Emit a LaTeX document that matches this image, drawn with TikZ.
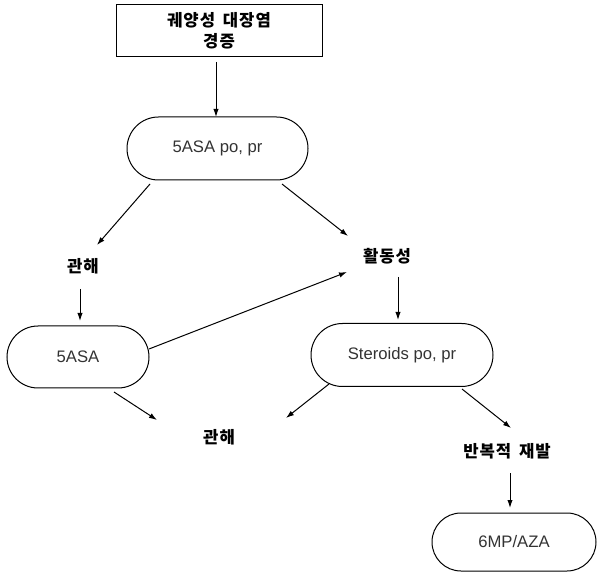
\documentclass[tikz,border=0pt]{standalone}
\usepackage{fontspec}
\setmainfont{Liberation Sans}
\newfontfamily\kr{Noto Sans CJK KR}[LetterSpace=6,WordSpace=1.6]
\usetikzlibrary{arrows.meta,shapes.misc}
\definecolor{txtgray}{HTML}{333333}
\begin{document}
\begin{tikzpicture}[x=0.75pt,y=-0.75pt,
  every node/.style={inner sep=0pt,outer sep=0pt},
  pill/.style={draw,line width=0.75pt,rounded rectangle,font=\fontsize{12.5}{15}\selectfont,text=txtgray},
  lbl/.style={font=\kr\bfseries\fontsize{12.5}{14}\selectfont},
  arr/.style={line width=0.75pt,-{Latex[length=6pt,width=4pt]}}]
\useasboundingbox (0,0) rectangle (597,574);
\node[draw,line width=0.75pt,minimum width=206*0.75pt,minimum height=52*0.75pt,align=center,lbl,font=\kr\bfseries\fontsize{12.5}{16}\selectfont] (top) at (219,31) {궤양성 대장염\\경증};
\node[pill,minimum width=181*0.75pt,minimum height=63*0.75pt] (p1) at (217.5,148.5) {5ASA po, pr};
\node[lbl] (r1) at (83,266) {관해};
\node[lbl] (act) at (387,256) {활동성};
\node[pill,minimum width=142*0.75pt,minimum height=62*0.75pt] (p2) at (78,357) {5ASA};
\node[pill,minimum width=182*0.75pt,minimum height=63*0.75pt] (p3) at (402,355) {Steroids po, pr};
\node[lbl] (r2) at (219,437) {관해};
\node[lbl] (rel) at (507,451) {반복적 재발};
\node[pill,minimum width=164*0.75pt,minimum height=58*0.75pt] (p4) at (514,542) {6MP/AZA};
\coordinate (a1s) at (216,62); \coordinate (a1e) at (216,117);
\draw[arr] (a1s) -- (a1e);
\coordinate (a2s) at (150,184); \coordinate (a2e) at (97,245);
\draw[arr] (a2s) -- (a2e);
\coordinate (a3s) at (282,184); \coordinate (a3e) at (348,236);
\draw[arr] (a3s) -- (a3e);
\coordinate (a4s) at (80,289); \coordinate (a4e) at (80,321);
\draw[arr] (a4s) -- (a4e);
\coordinate (a5s) at (149,349); \coordinate (a5e) at (347,272);
\draw[arr] (a5s) -- (a5e);
\coordinate (a6s) at (398,277); \coordinate (a6e) at (398,320);
\draw[arr] (a6s) -- (a6e);
\coordinate (a7s) at (114,392); \coordinate (a7e) at (157,420);
\draw[arr] (a7s) -- (a7e);
\coordinate (a8s) at (329,384); \coordinate (a8e) at (286,418);
\draw[arr] (a8s) -- (a8e);
\coordinate (a9s) at (462,389); \coordinate (a9e) at (511,428);
\draw[arr] (a9s) -- (a9e);
\coordinate (a10s) at (510,473); \coordinate (a10e) at (510,508);
\draw[arr] (a10s) -- (a10e);
\end{tikzpicture}
\end{document}
